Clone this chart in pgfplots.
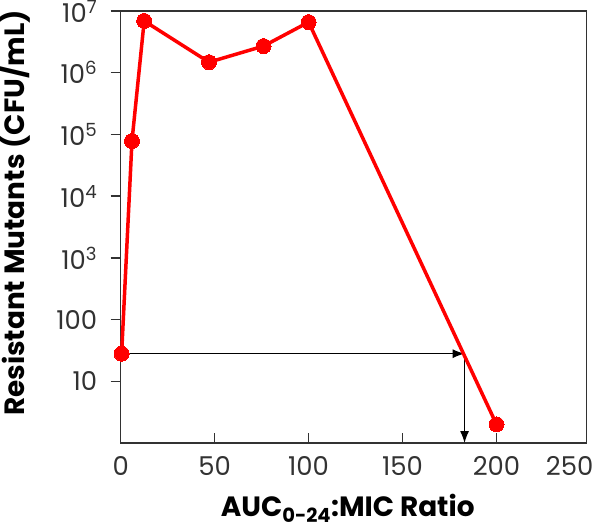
\documentclass[border=0pt]{standalone}
\usepackage{fontspec}
\setmainfont{Poppins}
\usepackage{pgfplots}
\pgfplotsset{compat=1.18}
\usetikzlibrary{arrows.meta}
\definecolor{mutred}{RGB}{255,0,0}
\definecolor{axgray}{RGB}{50,50,50}

\begin{document}
\begin{tikzpicture}
\begin{axis}[
  at={(0,0)}, anchor=south west,
  scale only axis, width=466bp, height=432bp,
  xmin=0, xmax=248, ymode=log, ymin=1, ymax=1e7,
  clip=false,
  axis line style={axgray, line width=1.3bp},
  tick style={axgray, line width=1.3bp},
  minor tick style={draw=none},
  major tick length=10bp,
  xtick pos=bottom, ytick pos=left,
  xtick align=inside, ytick align=outside,
  xtick={0,50,100,150,200},
  extra x ticks={248}, extra x tick labels={250},
  extra x tick style={major tick length=0pt, xticklabel style={xshift=-17bp}},
  ytick={10,100,1000,10000,100000,1000000,10000000},
  yticklabels={10,100,10\textsuperscript{3},10\textsuperscript{4},10\textsuperscript{5},10\textsuperscript{6},10\textsuperscript{7}},
  /pgf/number format/assume math mode=true,
  tick label style={font=\fontsize{26}{30}\selectfont, text=axgray},
  xticklabel style={yshift=-10bp},
  yticklabel style={xshift=-10bp},
  xlabel={\textbf{AUC\textsubscript{0-24}:MIC Ratio}},
  ylabel={\textbf{Resistant Mutants (CFU/mL)}},
  every axis x label/.style={at={(axis description cs:0.5,0)}, anchor=base, yshift=-73bp, xshift=-6bp},
  every axis y label/.style={at={(axis description cs:0,0.5)}, rotate=90, anchor=base, yshift=96bp, xshift=14bp},
  label style={font=\fontsize{28}{32}\selectfont, text=black},
]
\addplot[black, line width=1.1bp, -{Latex[length=12bp,width=9bp]}] coordinates {(0.5,28) (183,28)};
\addplot[black, line width=1.1bp, -{Latex[length=12bp,width=9bp]}] coordinates {(183,28) (183,1)};
\addplot[mutred, line width=3.5bp, mark=*, mark size=7.5bp, mark options={fill=mutred, draw=mutred, line width=0pt}]
  coordinates {(0.5,28) (6,78000) (12.5,6900000) (47,1480000) (76,2700000) (100,6600000) (200,2.0)};
\end{axis}
\pgfresetboundingbox
\path[use as bounding box] (-120.7bp,-88bp) rectangle (479.3bp,443bp);
\end{tikzpicture}
\end{document}
